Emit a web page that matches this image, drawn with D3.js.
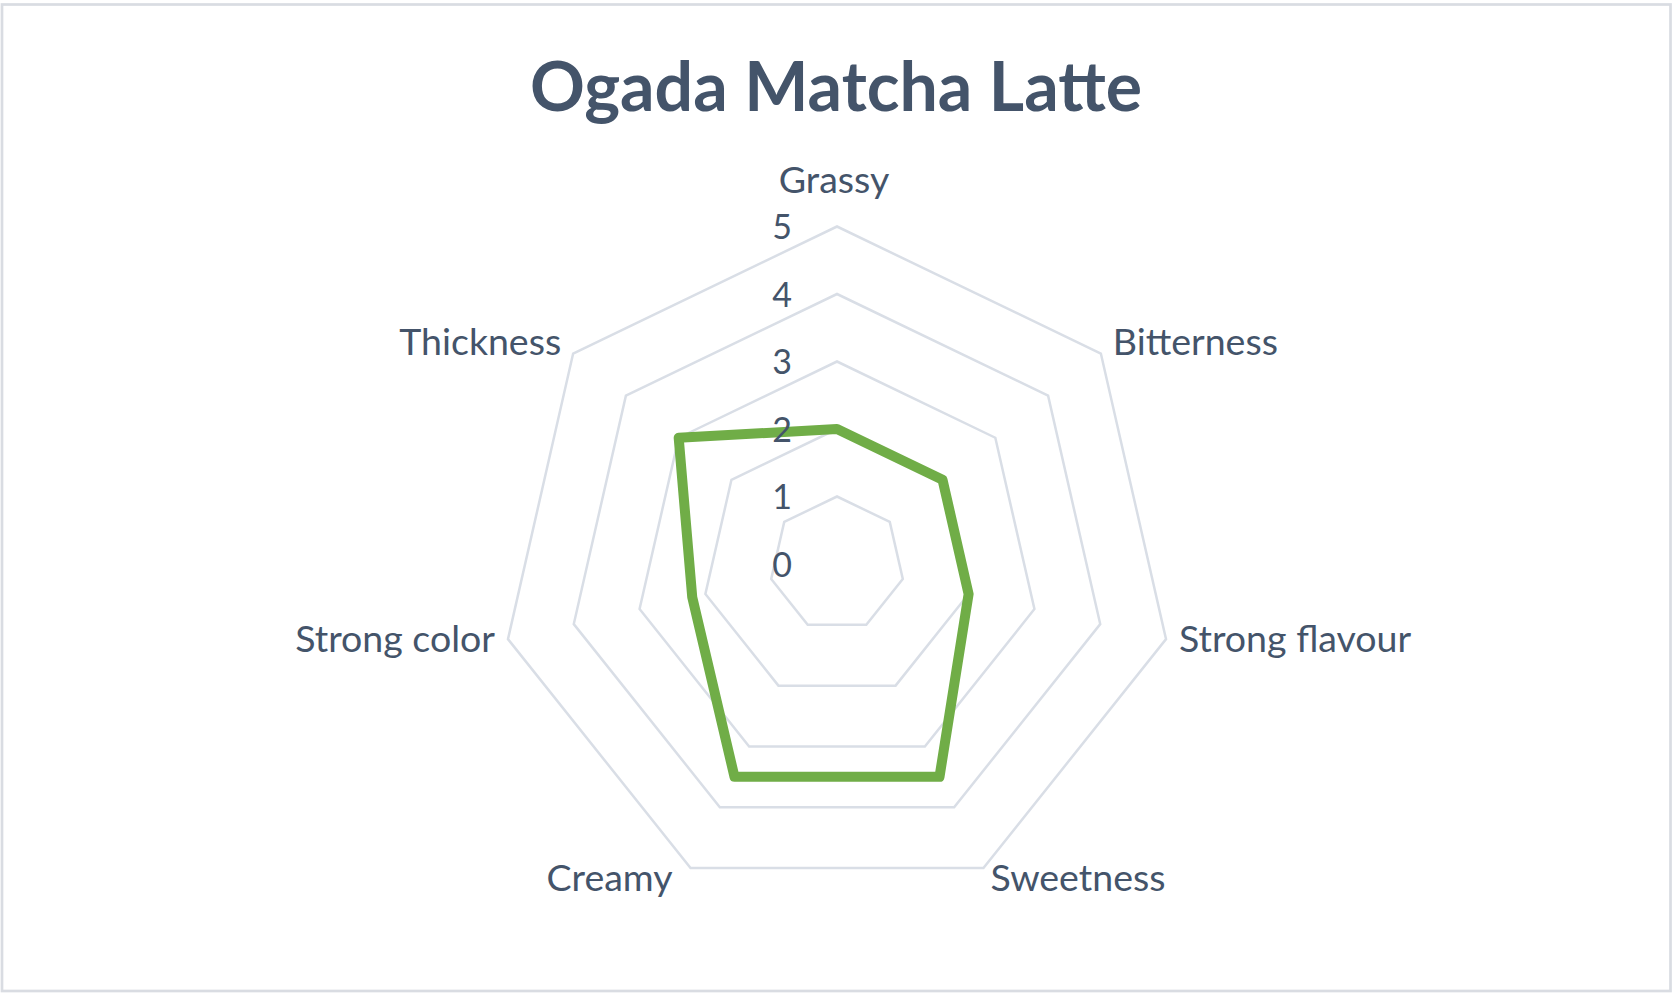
<!DOCTYPE html>
<html><head><meta charset="utf-8">
<script src="https://cdn.jsdelivr.net/npm/d3@7"></script>
<style>html,body{margin:0;padding:0;background:#fff;} svg{display:block;}</style>
</head><body>
<svg id="chart" width="1677" height="999"></svg>
<script>
const chartTitle = "Ogada Matcha Latte";
const categories = ["Grassy", "Bitterness", "Strong flavour", "Sweetness", "Creamy", "Strong color", "Thickness"];
const values = [2, 2, 2, 3.5, 3.5, 2.2, 3];
const tickValues = [0, 1, 2, 3, 4, 5];

const cx = 837, cy = 564, R = 337.5;
const textColor = "#44546A";
const svg = d3.select("#chart");

svg.append("rect")
  .attr("x", 2).attr("y", 4.5).attr("width", 1668.5).attr("height", 986.5)
  .attr("fill", "#fff").attr("stroke", "#D9DCE2").attr("stroke-width", 2.7);

svg.append("text")
  .attr("x", 836).attr("y", 111)
  .attr("text-anchor", "middle")
  .attr("font-family", "Lato, 'Open Sans', sans-serif")
  .attr("font-weight", 700).attr("font-size", 68)
  .attr("fill", textColor)
  .text(chartTitle);

const n = categories.length;
const step = 2 * Math.PI / n;
const r = d3.scaleLinear().domain([0, 5]).range([0, R]);
const g = svg.append("g").attr("transform", `translate(${cx},${cy})`);

const ring = d3.lineRadial()
  .angle((d, i) => i * step)
  .radius(d => r(d))
  .curve(d3.curveLinearClosed);

g.selectAll("path.grid")
  .data(tickValues.filter(v => v > 0))
  .join("path")
  .attr("class", "grid")
  .attr("d", v => ring(categories.map(() => v)))
  .attr("fill", "none")
  .attr("stroke", "#D9DEE6")
  .attr("stroke-width", 2.5);

g.append("path")
  .attr("d", ring(values))
  .attr("fill", "none")
  .attr("stroke", "#70AD47")
  .attr("stroke-width", 10)
  .attr("stroke-linejoin", "round");

g.selectAll("text.tick")
  .data(tickValues)
  .join("text")
  .attr("class", "tick")
  .attr("x", -45)
  .attr("y", v => -r(v) + 12.5)
  .attr("text-anchor", "end")
  .attr("font-family", "Lato, 'Open Sans', sans-serif")
  .attr("font-size", 34)
  .attr("fill", textColor)
  .text(v => v);

g.selectAll("text.cat")
  .data(categories)
  .join("text")
  .attr("class", "cat")
  .each(function(c, i) {
    const a = i * step;
    const s = Math.sin(a), co = Math.cos(a);
    const vx = R * s, vy = -R * co;
    let x, y, anchor;
    if (Math.abs(s) < 0.01) {
      anchor = "middle"; x = vx - 3; y = vy - 33.5;
    } else {
      anchor = s > 0 ? "start" : "end";
      const sign = s > 0 ? 1 : -1;
      if (co > 0.5) { x = vx + sign * 12; y = vy + 1; }
      else if (co > -0.5) { x = vx + sign * 13; y = vy + 13; }
      else { x = vx + (s > 0 ? 7 : -18); y = vy + 22.5; }
    }
    d3.select(this).attr("x", x).attr("y", y).attr("text-anchor", anchor);
  })
  .attr("font-family", "Lato, 'Open Sans', sans-serif")
  .attr("font-size", 37.5)
  .attr("fill", textColor)
  .text(c => c);
</script>
</body></html>
